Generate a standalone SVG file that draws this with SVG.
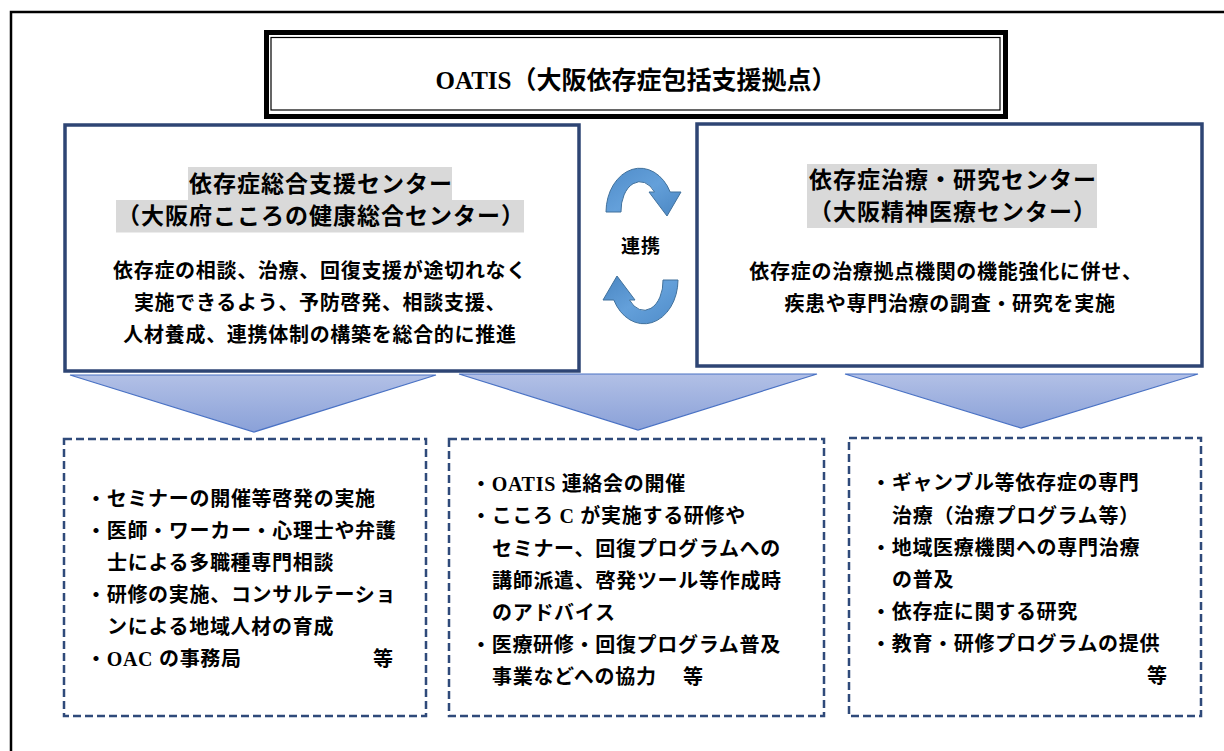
<svg xmlns="http://www.w3.org/2000/svg" width="1224" height="751" viewBox="0 0 1224 751">
<defs>
<style>
.jp{font-family:"Noto Sans CJK JP","Noto Sans",sans-serif;font-weight:bold;fill:#000}
.lat{font-family:"Liberation Serif","Noto Sans CJK JP",serif;font-weight:bold}
.body{font-size:20px;letter-spacing:0.7px}
.head{font-size:23px;letter-spacing:1px}
.center{stroke:#2E4574;stroke-width:3.5;fill:#fff}
.dash{fill:#fff;stroke:#2F4A7A;stroke-width:2.5;stroke-dasharray:8 4}
.hl{fill:#D9D9D9}
.tri{fill:url(#triG);stroke:#4A72C4;stroke-width:1.2}
.circ{fill:url(#arrG);stroke:#41719C;stroke-width:1}
</style>
<linearGradient id="triG" x1="0" y1="0" x2="0" y2="1">
<stop offset="0" stop-color="#B2C0E6"/>
<stop offset="1" stop-color="#8AA1D8"/>
</linearGradient>
<linearGradient id="arrG" x1="0" y1="0" x2="1" y2="1">
<stop offset="0" stop-color="#4F8CC9"/>
<stop offset="0.5" stop-color="#64A0DA"/>
<stop offset="1" stop-color="#4A86C2"/>
</linearGradient>
</defs>
<rect x="0" y="0" width="1224" height="751" fill="#fff"/>
<rect x="11" y="12" width="1300" height="800" fill="none" stroke="#000" stroke-width="2.5"/>

<g id="title">
<rect x="266.5" y="32.5" width="739" height="84" fill="#fff" stroke="#000" stroke-width="5"/>
<rect x="271" y="37.5" width="729" height="72.5" fill="none" stroke="#000" stroke-width="1.2"/>
<text class="jp" x="636" y="89" font-size="25" text-anchor="middle"><tspan class="lat">OATIS</tspan>（大阪依存症包括支援拠点）</text>
</g>

<g id="left-center">
<rect class="center" x="65" y="125" width="514" height="246"/>
<rect class="hl" x="188" y="167" width="264" height="33"/>
<rect class="hl" x="116" y="200" width="408" height="32.5"/>
<text class="jp head" x="321" y="192" text-anchor="middle">依存症総合支援センター</text>
<text class="jp head" x="321" y="224" text-anchor="middle">（大阪府こころの健康総合センター）</text>
<text class="jp body" x="320" y="278" text-anchor="middle">依存症の相談、治療、回復支援が途切れなく</text>
<text class="jp body" x="320" y="310" text-anchor="middle">実施できるよう、予防啓発、相談支援、</text>
<text class="jp body" x="320" y="342" text-anchor="middle">人材養成、連携体制の構築を総合的に推進</text>
</g>

<g id="right-center">
<rect class="center" x="697" y="124" width="505" height="242"/>
<rect class="hl" x="807" y="164" width="290" height="32"/>
<rect class="hl" x="807" y="196" width="290" height="32"/>
<text class="jp head" x="953" y="188" text-anchor="middle">依存症治療・研究センター</text>
<text class="jp head" x="953" y="220" text-anchor="middle">（大阪精神医療センター）</text>
<text class="jp body" x="946" y="279" text-anchor="middle">依存症の治療拠点機関の機能強化に併せ、</text>
<text class="jp body" x="950" y="311" text-anchor="middle">疾患や専門治療の調査・研究を実施</text>
</g>

<g id="renkei">
<text class="jp" x="641" y="253" font-size="19" letter-spacing="1" text-anchor="middle">連携</text>
</g>

<g id="connectors">
<path class="circ" d="M606,212 A34,44 0 0 1 670.2,192 L681,192 L667,216 L649,192 L654.5,192 A19,29 0 0 0 621,212 Z"/>
<path class="circ" transform="rotate(180 642 246)" d="M606,212 A34,44 0 0 1 670.2,192 L681,192 L667,216 L649,192 L654.5,192 A19,29 0 0 0 621,212 Z"/>
<polygon class="tri" points="70,375 436,375 254,432"/>
<polygon class="tri" points="459,374 817,374 638,430"/>
<polygon class="tri" points="845,374 1198,374 1021,428"/>
</g>

<g id="box-left">
<rect class="dash" x="64" y="439" width="362" height="277"/>
<text class="jp body" x="86" y="506">・セミナーの開催等啓発の実施</text>
<text class="jp body" x="86" y="538">・医師・ワーカー・心理士や弁護</text>
<text class="jp body" x="107" y="570">士による多職種専門相談</text>
<text class="jp body" x="86" y="602">・研修の実施、コンサルテーショ</text>
<text class="jp body" x="107" y="634">ンによる地域人材の育成</text>
<text class="jp body" x="86" y="666">・<tspan class="lat">OAC </tspan>の事務局</text>
<text class="jp body" x="373" y="666">等</text>
</g>

<g id="box-mid">
<rect class="dash" x="449" y="439" width="375" height="277"/>
<text class="jp body" x="471" y="491">・<tspan class="lat">OATIS </tspan>連絡会の開催</text>
<text class="jp body" x="471" y="523">・こころ<tspan class="lat"> C </tspan>が実施する研修や</text>
<text class="jp body" x="492" y="556">セミナー、回復プログラムへの</text>
<text class="jp body" x="492" y="588">講師派遣、啓発ツール等作成時</text>
<text class="jp body" x="492" y="620">のアドバイス</text>
<text class="jp body" x="471" y="652">・医療研修・回復プログラム普及</text>
<text class="jp body" x="492" y="684">事業などへの協力</text>
<text class="jp body" x="683" y="684">等</text>
</g>

<g id="box-right">
<rect class="dash" x="849" y="438" width="352" height="278"/>
<text class="jp body" x="871" y="490">・ギャンブル等依存症の専門</text>
<text class="jp body" x="892" y="523">治療（治療プログラム等）</text>
<text class="jp body" x="871" y="555">・地域医療機関への専門治療</text>
<text class="jp body" x="892" y="587">の普及</text>
<text class="jp body" x="871" y="619">・依存症に関する研究</text>
<text class="jp body" x="871" y="651">・教育・研修プログラムの提供</text>
<text class="jp body" x="1147" y="683">等</text>
</g>
</svg>
